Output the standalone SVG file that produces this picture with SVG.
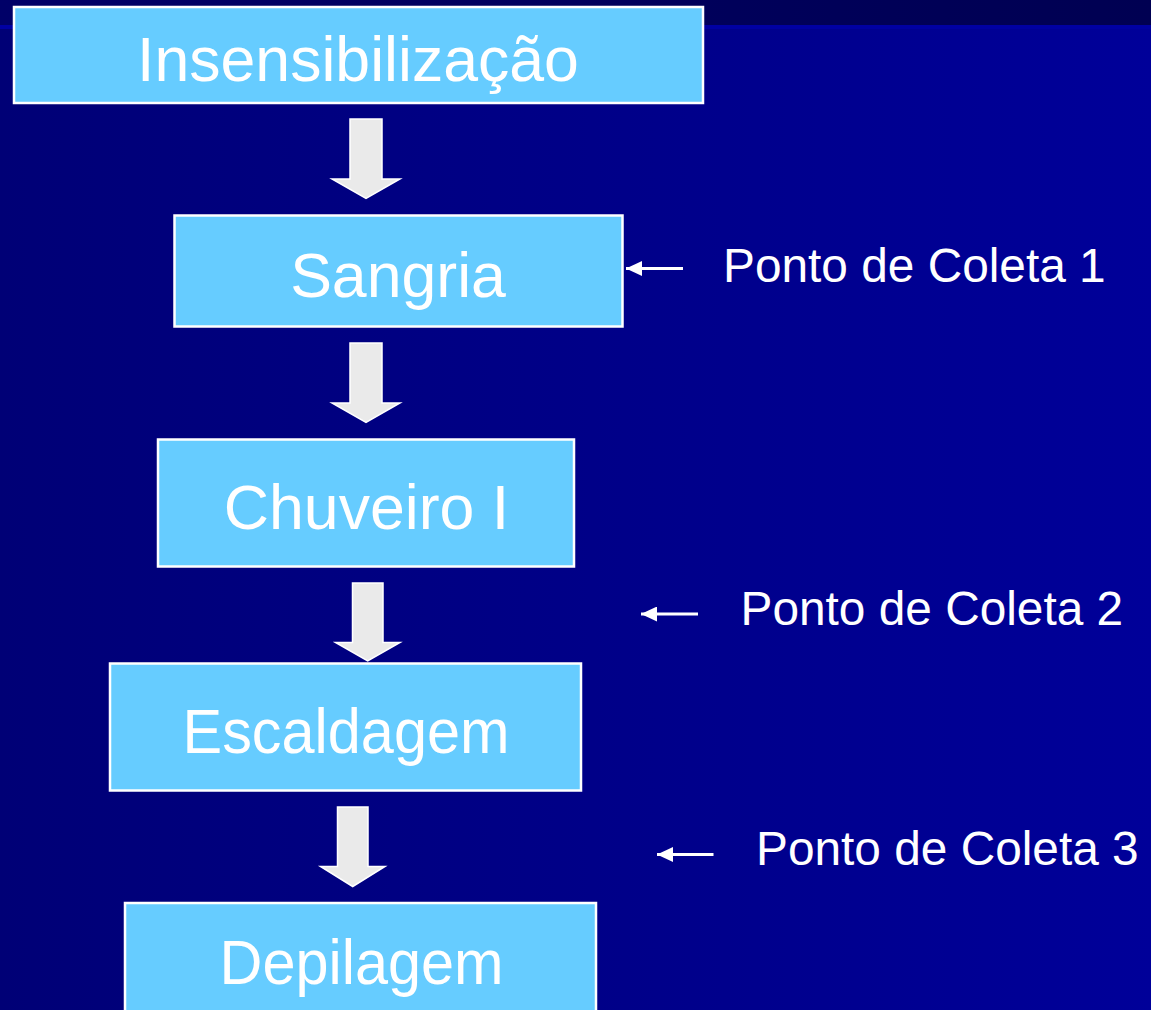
<svg xmlns="http://www.w3.org/2000/svg" width="1151" height="1010" viewBox="0 0 1151 1010">
<defs>
<linearGradient id="bg" x1="0" y1="0" x2="1" y2="0">
<stop offset="0" stop-color="#000076"/>
<stop offset="1" stop-color="#000099"/>
</linearGradient>
<linearGradient id="band" x1="0" y1="0" x2="1" y2="0">
<stop offset="0" stop-color="#000068"/>
<stop offset="1" stop-color="#000052"/>
</linearGradient>
<marker id="head" viewBox="0 0 16 15" markerWidth="16" markerHeight="15" refX="16" refY="7.5" orient="auto" markerUnits="userSpaceOnUse">
<path d="M0,0 L16,7.5 L0,15 Z" fill="#ffffff"/>
</marker>
<style>
.box{fill:#66CCFF;stroke:#ffffff;stroke-width:2.5}
.big{font-family:"Liberation Sans",Arial,sans-serif;font-size:62.6px;fill:#ffffff;text-anchor:middle}
.lbl{font-family:"Liberation Sans",Arial,sans-serif;font-size:47.8px;fill:#ffffff}
.flow{fill:#EAEAEA;stroke:#ffffff;stroke-width:1.5;stroke-linejoin:miter}
.ptr{stroke:#ffffff;stroke-width:3;fill:none}
</style>
</defs>
<rect x="0" y="0" width="1151" height="1010" fill="url(#bg)"/>
<rect x="0" y="0" width="1151" height="25" fill="url(#band)"/>
<rect x="0" y="25" width="1151" height="4" fill="#0000A2"/>

<g id="connectors">
<polygon class="flow" points="350,119 382,119 382,179 400,179 366,198.5 332,179 350,179"/>
<polygon class="flow" points="350,343 382,343 382,403 400,403 366,422.5 332,403 350,403"/>
<polygon class="flow" points="352.5,583 383,583 383,642.5 400,642.5 367.7,661 335.5,642.5 352.5,642.5"/>
<polygon class="flow" points="337.5,807 368,807 368,866.5 385,866.5 352.7,886.5 320.5,866.5 337.5,866.5"/>
<path class="ptr" d="M683,268.5 L626,268.5" marker-end="url(#head)"/>
<path class="ptr" d="M698,614 L641,614" marker-end="url(#head)"/>
<path class="ptr" d="M713.5,854.5 L657,854.5" marker-end="url(#head)"/>
</g>

<g id="n-insensibilizacao">
<rect class="box" x="14" y="7" width="689" height="96"/>
<text class="big" x="358" y="81">Insensibilização</text>
</g>
<g id="n-sangria">
<rect class="box" x="174.5" y="215.5" width="448" height="111"/>
<text class="big" x="398" y="297">Sangria</text>
</g>
<g id="n-chuveiro">
<rect class="box" x="158" y="439.5" width="416" height="127"/>
<text class="big" x="366.5" y="529">Chuveiro I</text>
</g>
<g id="n-escaldagem">
<rect class="box" x="110" y="663.5" width="471" height="127"/>
<text class="big" x="346" y="753" textLength="327" lengthAdjust="spacingAndGlyphs">Escaldagem</text>
</g>
<g id="n-depilagem">
<rect class="box" x="125" y="903" width="471" height="120"/>
<text class="big" x="361.5" y="984" textLength="284" lengthAdjust="spacingAndGlyphs">Depilagem</text>
</g>

<g id="l-ponto1">
<text class="lbl" x="723" y="282">Ponto de Coleta 1</text>
</g>
<g id="l-ponto2">
<text class="lbl" x="740.5" y="625">Ponto de Coleta 2</text>
</g>
<g id="l-ponto3">
<text class="lbl" x="756" y="865">Ponto de Coleta 3</text>
</g>
</svg>
